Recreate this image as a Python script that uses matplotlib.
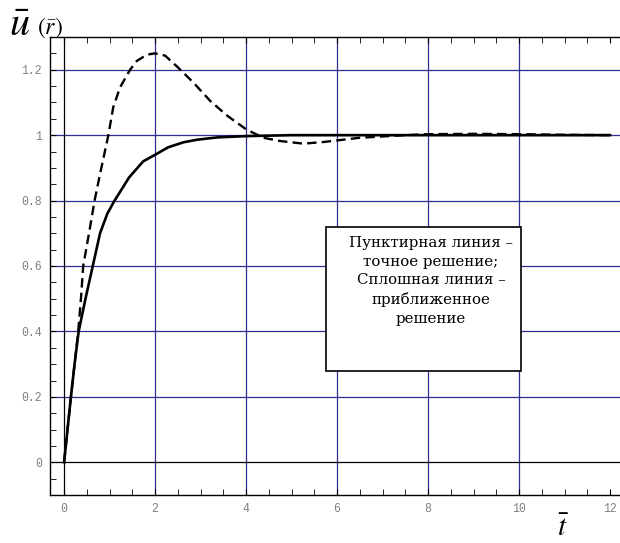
import matplotlib
matplotlib.use("Agg")
import matplotlib.pyplot as plt
from matplotlib.ticker import MultipleLocator, FuncFormatter

# Data
t_approx = [0, 0.15, 0.23, 0.32, 0.47, 0.63, 0.79, 0.95, 1.11, 1.43, 1.74, 2.0, 2.29, 2.62, 2.92, 3.36, 4.0, 5.0, 12.0]
u_approx = [0, 0.2, 0.3, 0.4, 0.5, 0.6, 0.7, 0.76, 0.8, 0.871, 0.92, 0.94, 0.963, 0.978, 0.986, 0.993, 0.997, 1.0, 1.0]

t_exact = [0, 0.15, 0.31, 0.37, 0.42, 0.56, 0.67, 0.79, 0.97, 1.08, 1.23, 1.45, 1.60, 1.82, 2.0, 2.22,
           2.48, 2.84, 3.21, 3.58, 4.01, 4.38, 4.75, 5.26, 5.7, 6.07, 6.5, 7.0, 7.5, 8.0, 9.0, 10.0, 11.0, 12.0]
u_exact = [0, 0.2, 0.4, 0.5, 0.6, 0.71, 0.8, 0.881, 0.998, 1.085, 1.146, 1.2, 1.227, 1.246, 1.25, 1.243,
           1.21, 1.161, 1.105, 1.06, 1.017, 0.992, 0.982, 0.974, 0.979, 0.985, 0.992, 0.996, 1.0, 1.003,
           1.004, 1.003, 1.001, 1.0]

x_major = [0, 2, 4, 6, 8, 10, 12]
y_major = [0, 0.2, 0.4, 0.6, 0.8, 1.0, 1.2]
note = "Пунктирная линия –\nточное решение;\nСплошная линия –\nприближенное\nрешение"

plt.rcParams["mathtext.fontset"] = "stix"
fig = plt.figure(figsize=(6.2, 5.43), dpi=100)
ax = fig.add_axes([50 / 620, 48 / 543, 570 / 620, 458 / 543])
ax.set_xlim(-0.31, 12.22)
ax.set_ylim(-0.1, 1.3)

grid_c = "#2e2e96"
for x in x_major[1:-1]:
    ax.axvline(x, color=grid_c, lw=0.9, zorder=1)
for y in y_major[1:]:
    ax.axhline(y, color=grid_c, lw=0.9, zorder=1)
ax.axvline(0, color="black", lw=0.9, zorder=1)
ax.axhline(0, color="black", lw=0.9, zorder=1)

ax.plot(t_approx, u_approx, color="black", lw=1.9, zorder=3)
ax.plot(t_exact, u_exact, color="black", lw=1.7, dashes=(4.0, 2.2), zorder=3)

ax.spines["right"].set_visible(False)
for s in ["left", "bottom", "top"]:
    ax.spines[s].set_linewidth(1.0)

ax.set_xticks(x_major)
ax.set_yticks(y_major)
ax.xaxis.set_minor_locator(MultipleLocator(0.5))
ax.yaxis.set_minor_locator(MultipleLocator(0.05))
ax.yaxis.set_major_formatter(FuncFormatter(lambda v, p: "%g" % round(v, 2)))
ax.tick_params(axis="both", which="both", direction="in", colors="black",
               labelcolor="#808080", labelsize=8.3, pad=6)
ax.tick_params(axis="x", which="both", top=True, length=4)
ax.tick_params(axis="y", which="both", length=4)
for lab in ax.get_xticklabels() + ax.get_yticklabels():
    lab.set_family("Liberation Mono")

fig.text(0.014, 0.934, r"$\bar{u}$", fontsize=29, ha="left", va="baseline")
fig.text(0.060, 0.938, r"$(\bar{r})$", fontsize=17, ha="left", va="baseline")
fig.text(563 / 620, 7 / 543, r"$\bar{t}$", fontsize=21, ha="center", va="baseline")

# Annotation box
box = plt.Rectangle((326 / 620, 1 - 371 / 543), (521 - 326) / 620, (371 - 227) / 543,
                    transform=fig.transFigure, facecolor="white", edgecolor="black",
                    lw=1.2, zorder=5)
fig.add_artist(box)
fig.text(431 / 620, 1 - 236 / 543, note, ha="center", va="top", fontsize=10.8,
         family="DejaVu Serif", linespacing=1.42, zorder=6)

fig.savefig("out.png", dpi=100)
